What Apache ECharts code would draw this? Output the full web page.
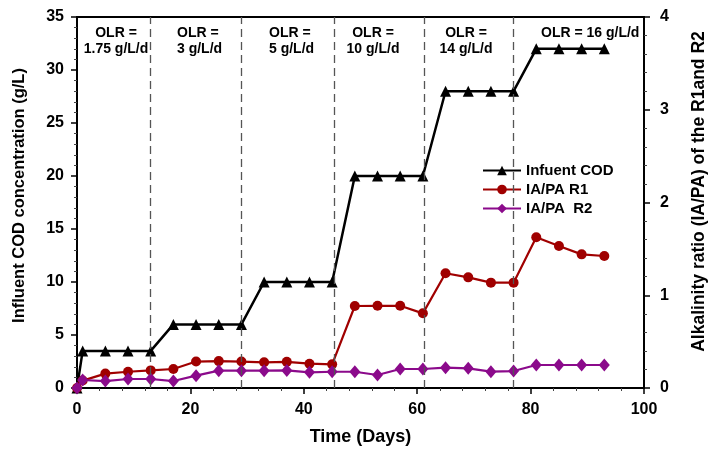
<!DOCTYPE html>
<html>
<head>
<meta charset="utf-8">
<script src="https://cdn.jsdelivr.net/npm/echarts@6/dist/echarts.min.js"></script>
<style>
html,body{margin:0;padding:0;background:#fff;}
#chart{width:716px;height:455px;}
</style>
</head>
<body>
<div id="chart"></div>
<script>
// ---- data ----
var days = [0,1,5,9,13,17,21,25,29,33,37,41,45,49,53,57,61,65,69,73,77,81,85,89,93];
var influentCOD = [0,3.5,3.5,3.5,3.5,6,6,6,6,10,10,10,10,20,20,20,20,28,28,28,28,32,32,32,32];
var iapaR1 = [0,0.08,0.155,0.175,0.19,0.205,0.285,0.29,0.285,0.277,0.282,0.262,0.255,0.884,0.886,0.886,0.805,1.237,1.193,1.136,1.136,1.625,1.531,1.441,1.423];
var iapaR2 = [0,0.086,0.075,0.097,0.097,0.075,0.133,0.187,0.187,0.187,0.19,0.169,0.175,0.175,0.14,0.205,0.205,0.219,0.212,0.176,0.183,0.248,0.248,0.248,0.248];
var phaseDays = [13,29,45.4,61.2,77];
var seriesNames = ['Infuent COD','IA/PA R1','IA/PA  R2'];
var olrLines1 = ['OLR =','OLR =','OLR =','OLR =','OLR =','OLR = 16 g/L/d'];
var olrLines2 = ['1.75 g/L/d','3 g/L/d','5 g/L/d','10 g/L/d','14 g/L/d',''];

function pairs(xs, ys){ return xs.map(function(x,i){ return [x, ys[i]]; }); }

var FF = '"Liberation Sans", Arial, sans-serif';
var chart = echarts.init(document.getElementById('chart'), null, {renderer:'canvas'});

// annotation layout (pixels)
var olrPos = [
  {x:116, align:'center'}, {x:177, align:'left'}, {x:269, align:'left'},
  {x:373, align:'center'}, {x:466, align:'center'}, {x:541, align:'left'}
];
var graphics = [];
olrLines1.forEach(function(t,i){
  graphics.push({type:'text', style:{text:t, x:olrPos[i].x, y:33, textAlign:olrPos[i].align, align:olrPos[i].align, textVerticalAlign:'middle', verticalAlign:'middle', fontSize:14, fontWeight:'bold', fontFamily:FF, fill:'#000'}});
  if (olrLines2[i]) {
    graphics.push({type:'text', style:{text:olrLines2[i], x:olrPos[i].x, y:49, textAlign:olrPos[i].align, align:olrPos[i].align, textVerticalAlign:'middle', verticalAlign:'middle', fontSize:14, fontWeight:'bold', fontFamily:FF, fill:'#000'}});
  }
});

var axisCommon = {
  axisLine:{show:true, onZero:false, lineStyle:{color:'#000', width:2}},
  axisTick:{show:true, inside:false, length:6, lineStyle:{color:'#000', width:1.5}},
  minorTick:{show:true, splitNumber:5, length:3, lineStyle:{color:'#444', width:1}},
  splitLine:{show:false},
  axisLabel:{color:'#000', fontSize:16, fontWeight:'bold', fontFamily:FF}
};

var option = {
  animation:false,
  backgroundColor:'#fff',
  grid:{left:77, right:71, top:17, bottom:67, show:true, borderColor:'#000', borderWidth:2, backgroundColor:'transparent'},
  legend:{
    orient:'vertical', left:477, top:158, itemWidth:38, itemHeight:12, itemGap:4,
    data:seriesNames,
    textStyle:{color:'#000', fontSize:15, fontWeight:'bold', fontFamily:FF}
  },
  xAxis:Object.assign({}, axisCommon, {
    type:'value', min:0, max:100, interval:20,
    name:'Time (Days)', nameLocation:'middle', nameGap:40,
    nameTextStyle:{color:'#000', fontSize:18, fontWeight:'bold', fontFamily:FF},
    axisLabel:Object.assign({}, axisCommon.axisLabel, {margin:14})
  }),
  yAxis:[
    Object.assign({}, axisCommon, {
      type:'value', min:0, max:35, interval:5, position:'left',
      name:'Influent COD concentration (g/L)', nameLocation:'middle', nameGap:49,
      nameTextStyle:{color:'#000', fontSize:16.5, fontWeight:'bold', fontFamily:FF, padding:[0,0,0,14]},
      axisLabel:Object.assign({}, axisCommon.axisLabel, {margin:13})
    }),
    Object.assign({}, axisCommon, {
      type:'value', min:0, max:4, interval:1, position:'right',
      name:'Alkalinity ratio (IA/PA) of the R1and R2', nameLocation:'middle', nameGap:46,
      nameTextStyle:{color:'#000', fontSize:17.5, fontWeight:'bold', fontFamily:FF, padding:[0,0,0,22]},
      axisLabel:Object.assign({}, axisCommon.axisLabel, {margin:16})
    })
  ],
  graphic:graphics,
  series:[
    {
      name:seriesNames[0], type:'line', yAxisIndex:0, data:pairs(days, influentCOD),
      symbol:'triangle', symbolSize:11, showAllSymbol:true,
      lineStyle:{color:'#000', width:2.5}, itemStyle:{color:'#000'},
      z:2,
      markLine:{
        silent:true, symbol:'none', animation:false,
        label:{show:false},
        lineStyle:{color:'#555', type:[8,5], width:1.3},
        data:phaseDays.map(function(d){ return {xAxis:d}; })
      }
    },
    {
      name:seriesNames[1], type:'line', yAxisIndex:1, data:pairs(days, iapaR1),
      symbol:'circle', symbolSize:10, showAllSymbol:true,
      lineStyle:{color:'#a00000', width:2.2}, itemStyle:{color:'#a00000'},
      z:3
    },
    {
      name:seriesNames[2], type:'line', yAxisIndex:1, data:pairs(days, iapaR2),
      symbol:'diamond', symbolSize:[11,13], showAllSymbol:true,
      lineStyle:{color:'#8b0a8b', width:2.2}, itemStyle:{color:'#8b0a8b'},
      z:4
    }
  ]
};
chart.setOption(option);
</script>
</body>
</html>
